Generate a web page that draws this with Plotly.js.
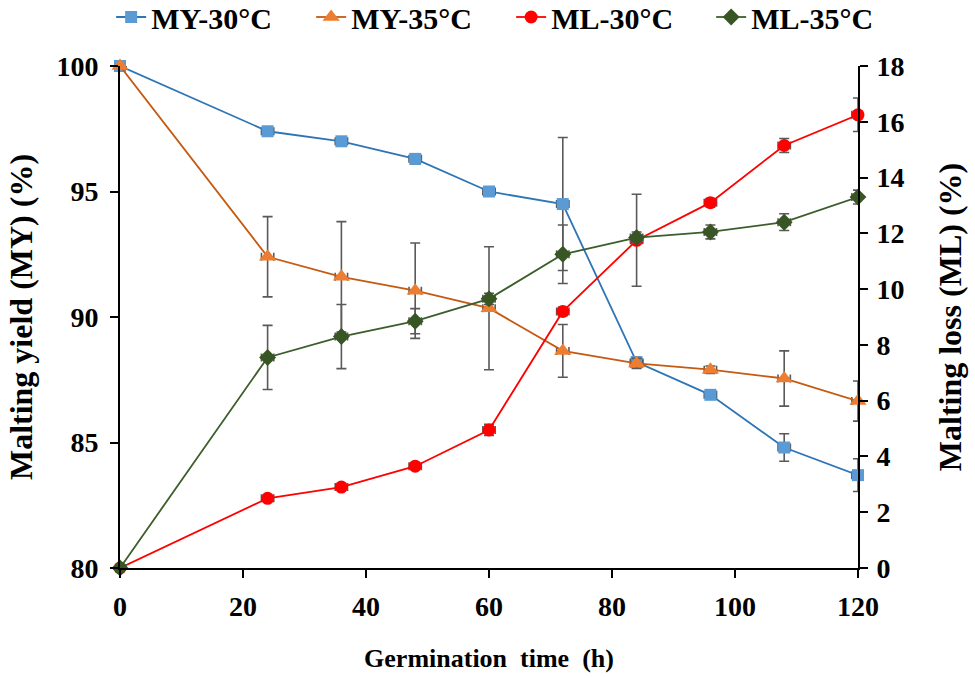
<!DOCTYPE html>
<html><head><meta charset="utf-8">
<script src="https://cdn.plot.ly/plotly-3.0.1.min.js"></script>
<style>html,body{margin:0;padding:0;background:#fff}</style>
</head><body>
<div id="chart" style="width:975px;height:678px"></div>
<script>
const hours = [0, 24, 36, 48, 60, 72, 84, 96, 108, 120];
const my30 = [100, 97.4, 97.0, 96.3, 95.0, 94.5, 88.2, 86.9, 84.8, 83.7];
const my30Err = [0.05, 0.1, 0.1, 0.2, 0.1, 2.65, 0.2, 0.1, 0.55, 0.65];
const my35 = [100, 92.4, 91.6, 91.05, 90.35, 88.65, 88.15, 87.9, 87.55, 86.65];
const my35Err = [0.05, 1.6, 2.2, 1.9, 2.45, 1.05, 0.2, 0.15, 1.1, 0.8];
const ml30 = [0, 2.5, 2.9, 3.65, 4.95, 9.2, 11.75, 13.1, 15.15, 16.25];
const ml30Err = [0.05, 0.1, 0.1, 0.1, 0.2, 0.15, 1.65, 0.15, 0.25, 0.6];
const ml35 = [0, 7.55, 8.3, 8.85, 9.65, 11.25, 11.85, 12.05, 12.4, 13.3];
const ml35Err = [0.05, 1.15, 1.15, 0.45, 0.2, 1.05, 0.2, 0.25, 0.3, 0.25];
const xErr = [1, 1, 1, 1, 1, 1, 1, 1, 1, 1];
const seriesNames = ['MY-30°C', 'MY-35°C', 'ML-30°C', 'ML-35°C'];

const FONT = 'Liberation Serif';
const errStyle = (arr) => ({type: 'data', array: arr, visible: true, color: '#595959', thickness: 1.6, width: 5});
const errX = () => ({type: 'data', array: xErr, visible: true, color: '#595959', thickness: 1.6, width: 4});

const traces = [
  {x: hours, y: my30, name: seriesNames[0], yaxis: 'y', mode: 'lines+markers', cliponaxis: false,
   line: {color: '#2E75B6', width: 1.8}, marker: {symbol: 'square', size: 12, color: '#5B9BD5'},
   error_y: errStyle(my30Err), error_x: errX()},
  {x: hours, y: my35, name: seriesNames[1], yaxis: 'y', mode: 'lines+markers', cliponaxis: false,
   line: {color: '#C55A11', width: 1.8}, marker: {symbol: 'triangle-up', size: 15, color: '#ED7D31'},
   error_y: errStyle(my35Err), error_x: errX()},
  {x: hours, y: ml30, name: seriesNames[2], yaxis: 'y2', mode: 'lines+markers', cliponaxis: false,
   line: {color: '#FF0000', width: 1.8}, marker: {symbol: 'circle', size: 13, color: '#FF0000'},
   error_y: errStyle(ml30Err), error_x: errX()},
  {x: hours, y: ml35, name: seriesNames[3], yaxis: 'y2', mode: 'lines+markers', cliponaxis: false,
   line: {color: '#3B5E2B', width: 1.8}, marker: {symbol: 'diamond', size: 13, color: '#375623'},
   error_y: errStyle(ml35Err), error_x: errX()}
];

const tickFont = {family: FONT, size: 28, color: '#000', weight: 'bold'};
const axBase = {showgrid: false, zeroline: false, showline: true, linecolor: '#000', linewidth: 2,
  ticks: 'outside', ticklen: 8, tickwidth: 2, tickcolor: '#000', tickfont: tickFont};

const layout = {
  width: 975, height: 678,
  margin: {l: 120, r: 117, t: 66, b: 110, autoexpand: false},
  paper_bgcolor: '#fff', plot_bgcolor: '#fff',
  showlegend: true,
  legend: {orientation: 'h', x: -0.012, xanchor: 'left', y: 1.0976, yanchor: 'middle', yref: 'paper',
    font: {family: FONT, size: 30, color: '#000', weight: 'bold'}, itemwidth: 30,
    entrywidth: 155, entrywidthmode: 'pixels'},
  xaxis: Object.assign({}, axBase, {range: [0, 120], dtick: 20, tick0: 0, anchor: 'y', ticklabelstandoff: 4,
    title: {text: 'Germination  time  (h)', font: {family: FONT, size: 26, color: '#000', weight: 'bold'}, standoff: 28}}),
  xaxis2: {overlaying: 'x', anchor: 'y', range: [0, 120], dtick: 20, tick0: 0, showline: false, showgrid: false,
    zeroline: false, ticks: 'inside', ticklen: 8, tickwidth: 2, tickcolor: '#000', showticklabels: false},
  yaxis: Object.assign({}, axBase, {range: [80, 100], dtick: 5, tick0: 80, ticklabelstandoff: 6,
    title: {text: 'Malting yield (MY) (%)', font: {family: FONT, size: 32, color: '#000', weight: 'bold'}, standoff: 14}}),
  yaxis2: Object.assign({}, axBase, {range: [0, 18], dtick: 2, tick0: 0, overlaying: 'y', side: 'right', anchor: 'x',
    ticklabelstandoff: 3, title: {text: 'Malting loss (ML) (%)', font: {family: FONT, size: 32, color: '#000', weight: 'bold'}, standoff: 35}}),
  yaxis3: {overlaying: 'y', anchor: 'x', range: [80, 100], dtick: 5, tick0: 80, showline: false, showgrid: false,
    zeroline: false, ticks: 'inside', ticklen: 8, tickwidth: 2, tickcolor: '#000', showticklabels: false},
  yaxis4: {overlaying: 'y', anchor: 'x', side: 'right', range: [0, 18], dtick: 2, tick0: 0, showline: false, showgrid: false,
    zeroline: false, ticks: 'inside', ticklen: 8, tickwidth: 2, tickcolor: '#000', showticklabels: false}
};

Plotly.newPlot('chart', traces, layout, {displayModeBar: false, staticPlot: true});
</script>
</body></html>
